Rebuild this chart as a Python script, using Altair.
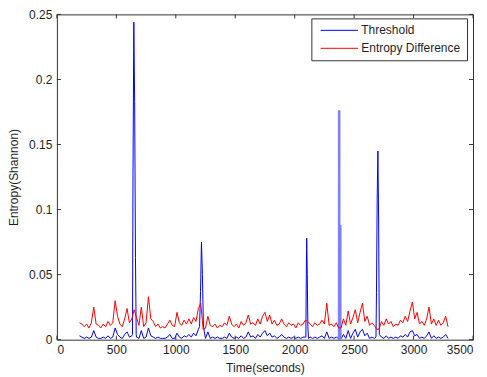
import altair as alt
import pandas as pd

# ---- data ----
# regular sampling grid, seconds
t_grid = list(range(190, 3291, 20))

entropy_diff = [
    0.013, 0.012, 0.010, 0.012, 0.009, 0.013, 0.025, 0.012, 0.011, 0.009,   # 190-370
    0.012, 0.010, 0.014, 0.011, 0.013, 0.030, 0.018, 0.012, 0.010, 0.016,   # 390-570
    0.024, 0.013, 0.016, 0.023, 0.017, 0.011, 0.025, 0.010, 0.013, 0.033,   # 590-770
    0.016, 0.014, 0.010, 0.012, 0.009, 0.010, 0.009, 0.012, 0.015, 0.011,   # 790-970
    0.010, 0.021, 0.013, 0.011, 0.015, 0.012, 0.016, 0.012, 0.017, 0.014,   # 990-1170
    0.024, 0.028, 0.008, 0.009, 0.018, 0.011, 0.010, 0.012, 0.009, 0.011,   # 1190-1370
    0.010, 0.013, 0.011, 0.018, 0.012, 0.010, 0.012, 0.009, 0.014, 0.011,   # 1390-1570
    0.013, 0.019, 0.012, 0.013, 0.011, 0.016, 0.012, 0.018, 0.021, 0.014,   # 1590-1770
    0.019, 0.012, 0.015, 0.011, 0.012, 0.016, 0.012, 0.010, 0.013, 0.011,   # 1790-1970
    0.012, 0.009, 0.013, 0.011, 0.012, 0.015, 0.014, 0.012, 0.010, 0.013,   # 1990-2170
    0.011, 0.012, 0.015, 0.012, 0.028, 0.011, 0.012, 0.010, 0.013, 0.009,   # 2190-2370
    0.009, 0.016, 0.011, 0.022, 0.012, 0.017, 0.023, 0.013, 0.021, 0.028,   # 2390-2570
    0.014, 0.018, 0.011, 0.013, 0.011, 0.008, 0.008, 0.014, 0.011, 0.016,   # 2590-2770
    0.012, 0.014, 0.010, 0.012, 0.011, 0.015, 0.013, 0.018, 0.014, 0.022,   # 2790-2970
    0.029, 0.016, 0.021, 0.012, 0.014, 0.011, 0.016, 0.025, 0.012, 0.016,   # 2990-3170
    0.011, 0.015, 0.011, 0.013, 0.018, 0.010,                               # 3190-3290
]

# threshold on the grid (None = replaced by the detailed spike samples below)
threshold_grid = [
    0.003, 0.002, 0.001, 0.002, 0.001, 0.002, 0.007, 0.002, 0.001, 0.001,   # 190-370
    0.002, 0.001, 0.003, 0.001, 0.002, 0.009, 0.004, 0.002, 0.001, 0.004,   # 390-570
    0.006, 0.002, 0.003, None,  0.002, 0.001, 0.007, 0.001, 0.002, 0.009,   # 590-770
    0.003, 0.002, 0.001, 0.002, 0.001, 0.001, 0.001, 0.002, 0.004, 0.001,   # 790-970
    0.001, 0.005, 0.002, 0.001, 0.003, 0.002, 0.004, 0.002, 0.005, 0.003,   # 990-1170
    0.008, None,  None,  0.001, 0.006, 0.001, 0.002, 0.001, 0.002, 0.001,   # 1190-1370
    0.001, 0.002, 0.001, 0.005, 0.002, 0.001, 0.002, 0.001, 0.003, 0.001,   # 1390-1570
    0.002, 0.006, 0.002, 0.003, 0.001, 0.004, 0.002, 0.005, 0.007, 0.003,   # 1590-1770
    0.005, 0.002, 0.003, 0.001, 0.002, 0.004, 0.002, 0.001, 0.002, 0.001,   # 1790-1970
    0.002, 0.001, 0.002, 0.001, 0.002, 0.002, None,  0.002, 0.001, 0.002,   # 1990-2170
    0.001, 0.002, 0.003, 0.001, 0.006, 0.001, 0.002, 0.001, 0.002, None,    # 2190-2370
    None,  0.004, 0.001, 0.007, 0.001, 0.005, 0.008, 0.002, 0.006, 0.008,   # 2390-2570
    0.003, 0.005, 0.001, 0.002, 0.001, None,  None,  0.002, 0.001, 0.003,   # 2590-2770
    0.001, 0.002, 0.001, 0.002, 0.001, 0.003, 0.002, 0.004, 0.002, 0.006,   # 2790-2970
    0.007, 0.003, 0.004, 0.001, 0.002, 0.001, 0.003, 0.006, 0.001, 0.003,   # 2990-3170
    0.001, 0.002, 0.001, 0.002, 0.004, 0.001,                               # 3190-3290
]

# finer samples around the threshold spikes
spike_t = [636, 640, 647, 654, 661, 667,
           1200, 1208, 1216, 1224, 1232, 1240,
           2094, 2097, 2101, 2106, 2111, 2116,
           2366, 2393,
           2684, 2688, 2694, 2700, 2706, 2712]
spike_v = [0.004, 0.125, 0.244, 0.183, 0.063, 0.004,
           0.010, 0.037, 0.075, 0.050, 0.012, 0.006,
           0.002, 0.039, 0.078, 0.050, 0.010, 0.001,
           0.001, 0.001,
           0.002, 0.036, 0.108, 0.145, 0.092, 0.004]

# very dense burst of threshold samples near 2380 s (renders as a pale band)
burst_t = [2366, 2368, 2369, 2370, 2371, 2372, 2373, 2374, 2375, 2376, 2377,
           2378, 2379, 2380, 2381, 2382, 2383, 2384, 2385, 2386, 2387, 2388, 2389, 2390, 2392]
burst_v = [0.001, 0.176, 0.000, 0.176, 0.000, 0.176, 0.000, 0.176, 0.000, 0.176, 0.000,
           0.176, 0.000, 0.176, 0.088, 0.000, 0.088, 0.000, 0.088, 0.000, 0.088, 0.000, 0.088, 0.000, 0.001]

x_ticks = [0, 500, 1000, 1500, 2000, 2500, 3000, 3500]
y_ticks = [0, 0.05, 0.1, 0.15, 0.2, 0.25]
series_names = ["Threshold", "Entropy Difference"]
series_colors = ["#0000ff", "#ff0000"]

# ---- tables ----
red_df = pd.DataFrame({"t": t_grid, "v": entropy_diff, "series": series_names[1]})
blue_base = pd.DataFrame({"t": t_grid, "v": threshold_grid}).dropna()
blue_spk = pd.DataFrame({"t": spike_t, "v": spike_v})
blue_df = pd.concat([blue_base, blue_spk]).sort_values("t").reset_index(drop=True)
blue_df["series"] = series_names[0]
burst_df = pd.DataFrame({"t": burst_t, "v": burst_v})
xt_df = pd.DataFrame({"x": x_ticks})
yt_df = pd.DataFrame({"y": y_ticks})

W, H = 417, 326
FONT = "Liberation Sans"
TXT = "#1e1e2a"

xscale = alt.Scale(domain=[0, 3500], nice=False, zero=False)
yscale = alt.Scale(domain=[0, 0.25], nice=False)
cscale = alt.Scale(domain=series_names, range=series_colors)

xaxis = alt.Axis(values=x_ticks, format="d", ticks=False, domain=False, grid=False,
                 labelPadding=5, title="Time(seconds)", titlePadding=7)
yaxis = alt.Axis(values=y_ticks, format="~g", ticks=False, domain=False, grid=False,
                 labelPadding=5, title="Entropy(Shannon)", titlePadding=8)

legend = alt.Legend(title=None, orient="none", legendX=255, legendY=4,
                    symbolType="M-5,0H5", symbolSize=56, symbolStrokeWidth=1,
                    symbolOffset=16, labelOffset=16,
                    strokeColor="#333333", fillColor="white", padding=6,
                    labelFont=FONT, labelFontSize=12, labelColor=TXT,
                    rowPadding=6, cornerRadius=0)

blue = alt.Chart(blue_df).mark_line(strokeWidth=1, clip=True).encode(
    x=alt.X("t:Q", scale=xscale, axis=xaxis),
    y=alt.Y("v:Q", scale=yscale, axis=yaxis),
    color=alt.Color("series:N", scale=cscale, legend=legend, sort=series_names),
    order=alt.Order("t:Q"),
)
burst = alt.Chart(burst_df).mark_line(strokeWidth=0.6, color="#7f7fff", clip=True).encode(
    x=alt.X("t:Q", scale=xscale),
    y=alt.Y("v:Q", scale=yscale),
    order=alt.Order("t:Q"),
)
red = alt.Chart(red_df).mark_line(strokeWidth=1, clip=True).encode(
    x=alt.X("t:Q", scale=xscale),
    y=alt.Y("v:Q", scale=yscale),
    color=alt.Color("series:N", scale=cscale, sort=series_names),
    order=alt.Order("t:Q"),
)

tick_color = "#333333"
xt_bottom = alt.Chart(xt_df).mark_rule(color=tick_color, strokeWidth=1).encode(
    x=alt.X("x:Q", scale=xscale), y=alt.value(H), y2=alt.value(H - 4))
xt_top = alt.Chart(xt_df).mark_rule(color=tick_color, strokeWidth=1).encode(
    x=alt.X("x:Q", scale=xscale), y=alt.value(0), y2=alt.value(4))
yt_left = alt.Chart(yt_df).mark_rule(color=tick_color, strokeWidth=1).encode(
    y=alt.Y("y:Q", scale=yscale), x=alt.value(0), x2=alt.value(4))
yt_right = alt.Chart(yt_df).mark_rule(color=tick_color, strokeWidth=1).encode(
    y=alt.Y("y:Q", scale=yscale), x=alt.value(W), x2=alt.value(W - 4))

chart = alt.layer(blue, burst, red, xt_bottom, xt_top, yt_left, yt_right).properties(
    width=W, height=H,
    autosize=alt.AutoSizeParams(type="none"),
    padding={"left": 49, "top": 6, "right": 6, "bottom": 35},
).configure_view(
    stroke="#333333", strokeWidth=1
).configure_axis(
    labelFont=FONT, labelFontSize=12, labelColor=TXT,
    titleFont=FONT, titleFontSize=12, titleColor=TXT, titleFontWeight="normal",
)

chart.save("out.html", embed_options={"renderer": "svg", "actions": False})
